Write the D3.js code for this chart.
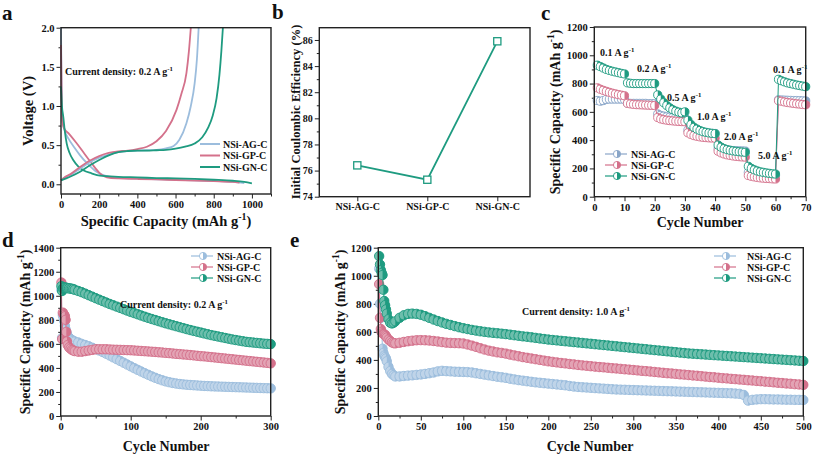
<!DOCTYPE html>
<html><head><meta charset="utf-8">
<script src="https://cdn.jsdelivr.net/npm/d3@7"></script>
<style>
body{margin:0;background:#fff}
svg{display:block}
text{font-family:"Liberation Serif","Times New Roman",serif;font-weight:bold;fill:#111}
</style>
</head><body><svg id="c" width="813" height="456"></svg>
<script>
// ---------- DATA ----------
const series = ["NSi-AG-C","NSi-GP-C","NSi-GN-C"];
const colors = ["#9cbddd","#d4718b","#1e9b80"];

// Panel a: voltage profiles (capacity mAh/g, voltage V)
const aAGdisCap = [0,2,5,10,20,40,70,100,140,180,230,300,400,500,600,700,800,900,960];
const aAGdisV   = [2.0,1.5,1.0,0.78,0.68,0.58,0.47,0.37,0.26,0.17,0.11,0.085,0.072,0.064,0.057,0.05,0.042,0.03,0.015];
const aGPdisCap = [0,3,8,15,40,80,120,160,200,240,300,400,500,600,700,800,900,935];
const aGPdisV   = [1.78,1.2,0.8,0.72,0.65,0.53,0.40,0.27,0.15,0.09,0.075,0.068,0.062,0.055,0.048,0.04,0.03,0.02];
const aGNdisCap = [0,5,12,20,30,45,64,90,117,160,204,300,400,500,600,700,800,900,960,1000];
const aGNdisV   = [1.25,1.0,0.86,0.68,0.52,0.4,0.31,0.23,0.18,0.14,0.11,0.095,0.088,0.08,0.075,0.068,0.058,0.045,0.03,0.012];
const aAGchCap = [0,20,50,100,150,200,250,300,350,400,450,500,550,590,620,657,680,700,712,721];
const aAGchV   = [0.05,0.09,0.12,0.2,0.28,0.34,0.38,0.41,0.425,0.43,0.435,0.44,0.46,0.49,0.57,0.78,1.0,1.29,1.6,2.0];
const aGPchCap = [0,20,50,100,150,200,250,300,350,400,450,500,550,605,630,657,670,680];
const aGPchV   = [0.05,0.09,0.13,0.22,0.3,0.36,0.4,0.42,0.43,0.45,0.48,0.55,0.68,0.95,1.15,1.42,1.7,2.0];
const aGNchCap = [0,20,50,100,150,200,250,300,350,400,450,500,550,600,650,700,740,770,795,815,830,840,848];
const aGNchV   = [0.05,0.07,0.1,0.16,0.24,0.31,0.37,0.41,0.425,0.43,0.43,0.435,0.44,0.455,0.48,0.52,0.6,0.72,0.88,1.1,1.4,1.7,2.0];

// Panel b: initial coulombic efficiency (%)
const bValues = [76.4, 75.3, 85.9];

// Panel c: rate performance
const cCycles = [1,2,3,4,5,6,7,8,9,10,11,12,13,14,15,16,17,18,19,20,21,22,23,24,25,26,27,28,29,30,31,32,33,34,35,36,37,38,39,40,41,42,43,44,45,46,47,48,49,50,51,52,53,54,55,56,57,58,59,60,61,62,63,64,65,66,67,68,69,70];
const cAG = [680,675,680,688,690,690,690,690,690,688, 662,660,660,660,660,660,660,658,658,658, 585,575,570,565,562,560,560,560,558,558, 470,462,456,452,450,450,448,448,448,447, 340,335,332,330,328,326,325,325,324,323, 172,166,162,160,158,156,155,154,153,152, 685,684,683,682,681,680,680,679,678,677];
const cGP = [770,760,752,745,738,732,727,722,718,714, 660,656,653,651,650,649,648,647,646,645, 560,550,545,541,538,536,534,532,531,530, 452,440,432,427,423,420,418,416,415,414, 322,310,302,296,292,288,285,283,281,280, 150,144,140,136,133,131,129,128,126,125, 680,675,670,666,663,660,657,655,652,650];
const cGN = [930,920,910,900,893,887,882,877,872,868, 805,802,800,800,800,800,800,800,800,800, 720,690,665,645,628,615,605,598,592,600, 540,510,490,478,468,460,455,451,448,446, 365,350,340,333,328,324,321,318,316,314, 215,200,190,182,176,172,168,165,162,160, 830,820,812,805,800,795,790,786,782,778];
const cRateLabels = ["0.1 A g","0.2 A g","0.5 A g","1.0 A g","2.0 A g","5.0 A g","0.1 A g"];

// Panel d: cycling at 0.2 A/g
const dCycles = [1,2,3,4,5,6,7,8,9,10,12,14,16,18,20,25,30,35,40,45,50,55,60,65,70,75,80,85,90,95,100,105,110,115,120,125,130,135,140,145,150,155,160,165,170,175,180,185,190,195,200,205,210,215,220,225,230,235,240,245,250,255,260,265,270,275,280,285,290,295,300];
const dAG = [1050,650,840,820,790,750,720,700,680,665, 650,640,632,625,620, 612,600,590,580,568,556,545,532,518,503,488,473,458,443,428,413,398,384,370,356,343,330,318,307,297,288,281,275,270,266,263,260,258,256,254,252,250,249,247,246,245,244,243,242,241,240,239,238,237,236,235,234,233,232,231,230];
const dGP = [1110,640,860,850,840,830,800,700,620,590, 570,560,550,545,540, 535,535,540,545,550,555,555,555,555,553,552,551,550,549,548,547,545,543,541,539,537,535,533,530,528,525,523,520,517,515,512,510,507,504,501,498,496,493,490,487,484,481,478,475,472,469,466,463,460,457,454,451,448,445,442,438];
const dGN = [1080,1040,1060,1065,1068,1068,1067,1066,1065,1064, 1062,1060,1058,1055,1050, 1040,1030,1018,1005,993,980,968,956,944,932,921,910,899,888,877,866,856,846,836,826,816,807,798,789,780,771,763,755,747,739,731,723,715,708,701,694,687,680,673,667,661,655,649,643,637,632,627,622,617,614,611,608,605,602,600,598];

// Panel e: cycling at 1.0 A/g
const eCycles = [1,2,3,4,5,6,7,8,9,10,12,14,16,18,20,25,30,35,40,45,50,55,60,65,70,75,80,85,90,95,100,105,110,115,120,125,130,135,140,145,150,155,160,165,170,175,180,185,190,195,200,205,210,215,220,225,230,235,240,245,250,255,260,265,270,275,280,285,290,295,300,305,310,315,320,325,330,335,340,345,350,355,360,365,370,375,380,385,390,395,400,405,410,415,420,425,430,435,440,445,450,455,460,465,470,475,480,485,490,495,500];
const eAG = [1050,800,700,600,480,450,430,420,410,390, 350,320,300,290,282, 282,285,288,290,293,296,300,305,310,318,322,320,318,316,315,314,313,310,305,300,295,290,285,280,276,272,266,261,256,252,248,244,240,237,234,231,228,225,222,219,214,210,207,205,203,201,199,197,195,193,191,189,188,187,186,185,184,183,182,181,180,179,178,177,176,175,174,173,172,171,170,169,168,167,166,165,164,163,162,160,158,150,110,115,118,120,120,119,118,118,117,116,116,115,115,114];
const eGP = [940,700,620,600,590,585,582,578,570,560, 545,535,525,520,518, 522,528,533,537,540,541,540,538,535,531,527,523,521,520,519,517,510,502,493,483,474,466,460,454,450,445,438,432,426,420,415,410,405,400,395,390,386,382,378,375,371,368,364,361,358,355,352,349,347,344,341,339,336,333,331,328,325,322,320,317,314,311,308,305,303,300,297,295,292,289,287,284,281,278,276,273,270,268,265,263,260,258,255,253,250,248,245,243,240,237,235,232,230,227,225,222];
const eGN = [1140,1080,1040,1020,1005,900,820,790,760,730, 690,665,660,665,675, 700,718,728,730,728,722,712,700,688,677,667,657,649,641,633,626,620,614,609,604,600,596,593,590,587,584,580,576,572,568,565,561,557,553,549,545,542,539,536,533,530,527,524,521,518,515,512,509,506,503,500,497,494,491,488,485,482,479,476,473,470,467,464,461,458,455,452,449,446,444,442,440,438,436,434,432,430,428,426,424,422,420,418,416,414,412,410,408,406,404,402,400,398,396,394,392];

// ---------- HELPERS ----------
const svg = d3.select("#c");
const FONT = "Liberation Serif, Times New Roman, serif";

function makePanel(box, xd, yd){
  return {box, x:d3.scaleLinear().domain(xd).range([box[0],box[2]]), y:d3.scaleLinear().domain(yd).range([box[3],box[1]])};
}
function styleAxis(s){
  s.select(".domain").remove();
  s.attr("font-family",FONT).attr("font-size",10.5).attr("font-weight","bold");
  s.selectAll(".tick line").attr("stroke","#222").attr("stroke-width",1);
  s.selectAll(".tick text").attr("fill","#111");
}
function axes(p, o){
  const g = svg.append("g");
  const [x0,y0,x1,y1] = p.box;
  if (o.yMin) g.append("g").attr("transform",`translate(${x0},0)`).call(d3.axisLeft(p.y).tickValues(o.yMin).tickSize(2.5).tickFormat("")).call(styleAxis);
  g.append("g").attr("transform",`translate(${x0},0)`).call(d3.axisLeft(p.y).tickValues(o.yMaj).tickSize(4.5).tickPadding(2).tickFormat(o.yFmt||(d=>d))).call(styleAxis);
  if (o.xMin) g.append("g").attr("transform",`translate(0,${y1})`).call(d3.axisBottom(p.x).tickValues(o.xMin).tickSize(2.5).tickFormat("")).call(styleAxis);
  g.append("g").attr("transform",`translate(0,${y1})`).call(d3.axisBottom(p.x).tickValues(o.xMaj).tickSize(4.5).tickPadding(2).tickFormat(o.xFmt||(d=>d))).call(styleAxis);
  return g;
}
function frame(p){
  const [x0,y0,x1,y1] = p.box;
  svg.append("rect").attr("x",x0).attr("y",y0).attr("width",x1-x0).attr("height",y1-y0)
    .attr("fill","none").attr("stroke","#222").attr("stroke-width",1.4);
}
function supText(g, x, y, main, sup, tail, size, opts={}){
  const t = g.append("text").attr("x",x).attr("y",y).attr("font-size",size);
  if (opts.anchor) t.attr("text-anchor",opts.anchor);
  if (opts.rotate) t.attr("transform",`rotate(-90,${x},${y})`);
  t.append("tspan").text(main);
  if (sup){
    t.append("tspan").attr("dy",-size*0.4).attr("font-size",size*0.68).text(sup);
    t.append("tspan").attr("dy",size*0.4).text(tail||"");
  }
  return t;
}
function halfMarker(g, cx, cy, r, color, leftFill){
  g.append("circle").attr("cx",cx).attr("cy",cy).attr("r",r).attr("fill",leftFill||"#fff").attr("stroke",color).attr("stroke-width",0.9);
  g.append("path").attr("transform",`translate(${cx},${cy})`)
    .attr("d", d3.arc()({innerRadius:0, outerRadius:r, startAngle:0, endAngle:Math.PI}))
    .attr("fill",color);
}
function panelLabel(t,x,y){ svg.append("text").attr("x",x).attr("y",y).attr("font-size",21).text(t); }

// ---------- PANEL a ----------
{
  const p = makePanel([61,27.7,271,194],[0,1100],[-0.124,2.0]);
  axes(p,{xMaj:[0,200,400,600,800,1000], xMin:[100,300,500,700,900,1100], yMaj:[0,0.5,1.0,1.5,2.0], yMin:[0.25,0.75,1.25,1.75], yFmt:d3.format(".1f")});
  const g = svg.append("g");
  const curves = [
    [aAGdisCap,aAGdisV,0],[aGPdisCap,aGPdisV,1],[aGNdisCap,aGNdisV,2],
    [aAGchCap,aAGchV,0],[aGPchCap,aGPchV,1],[aGNchCap,aGNchV,2]
  ];
  const line = d3.line().curve(d3.curveMonotoneX);
  curves.forEach(([cx,cv,k])=>{
    g.append("path").attr("d",line(cx.map((c,i)=>[p.x(c),p.y(cv[i])])))
      .attr("fill","none").attr("stroke",colors[k]).attr("stroke-width",1.8);
  });
  frame(p);
  series.forEach((s,i)=>{
    const yy = 144 + i*11.5;
    g.append("line").attr("x1",200).attr("x2",220).attr("y1",yy).attr("y2",yy).attr("stroke",colors[i]).attr("stroke-width",2);
    g.append("text").attr("x",223).attr("y",yy+3.5).attr("font-size",10).text(s);
  });
  supText(g,65,74.5,"Current density: 0.2 A g","-1","",10);
  supText(svg,166,226,"Specific Capacity (mAh g","-1",")",14.5,{anchor:"middle"});
  svg.append("text").attr("x",33).attr("y",111).attr("text-anchor","middle").attr("font-size",14.5)
    .attr("transform","rotate(-90,33,111)").text("Voltage (V)");
  panelLabel("a",2,20);
}

// ---------- PANEL b ----------
{
  const p = makePanel([319.3,27.7,530,196.7],[0.457,3.467],[74,86.94]);
  const g = axes(p,{xMaj:[1,2,3], yMaj:[74,76,78,80,82,84,86], yMin:[75,77,79,81,83,85], xFmt:(d)=>series[d-1]});
  g.selectAll("text").attr("font-size",10);
  const pts = bValues.map((v,i)=>[p.x(i+1),p.y(v)]);
  svg.append("path").attr("d",d3.line()(pts)).attr("fill","none").attr("stroke",colors[2]).attr("stroke-width",1.8);
  svg.selectAll(null).data(pts).join("rect").attr("x",d=>d[0]-3.6).attr("y",d=>d[1]-3.6).attr("width",7.2).attr("height",7.2)
    .attr("fill","#fff").attr("stroke",colors[2]).attr("stroke-width",1.3);
  frame(p);
  svg.append("text").attr("x",300).attr("y",112).attr("text-anchor","middle").attr("font-size",12.5)
    .attr("transform","rotate(-90,300,112)").text("Initial Coulombic Efficiency (%)");
  panelLabel("b",272,19);
}

// ---------- PANEL c ----------
{
  const p = makePanel([594.3,27,805.7,196.7],[0,70],[0,1200]);
  axes(p,{xMaj:[0,10,20,30,40,50,60,70], xMin:[5,15,25,35,45,55,65], yMaj:[0,200,400,600,800,1000,1200], yMin:[100,300,500,700,900,1100]});
  const g = svg.append("g");
  const cSeries = [cAG,cGP,cGN];
  const cCol = ["#8aa6c8",colors[1],colors[2]];
  cSeries.forEach((vals,k)=>{
    const pts = cCycles.map((c,i)=>[p.x(c),p.y(vals[i])]);
    g.append("path").attr("d",d3.line()(pts)).attr("fill","none").attr("stroke",cCol[k]).attr("stroke-width",1);
    pts.forEach(q=>halfMarker(g,q[0],q[1],4.1,cCol[k]));
  });
  frame(p);
  const rl = [[600,56],[637,72],[667,101],[697,120],[724,140],[758,159],[773,73]];
  cRateLabels.forEach((t,i)=>supText(g,rl[i][0],rl[i][1],t,"-1","",10));
  series.forEach((s,i)=>{
    const yy = 154 + i*11;
    g.append("line").attr("x1",605).attr("x2",627).attr("y1",yy).attr("y2",yy).attr("stroke",cCol[i]).attr("stroke-width",1.2);
    halfMarker(g,617,yy,3.6,cCol[i]);
    g.append("text").attr("x",631).attr("y",yy+3.5).attr("font-size",10).text(s);
  });
  supText(svg,700,227,"Cycle Number",null,null,14,{anchor:"middle"});
  supText(svg,560,112,"Specific Capacity (mAh g","-1",")",14,{anchor:"middle",rotate:true});
  panelLabel("c",541,20);
}

// ---------- PANEL d / e ----------
function cyclePanel(p, cyc, data, legX, txtX, note, noteX, noteY){
  const g = svg.append("g");
  data.forEach((vals,k)=>{
    const pts = cyc.map((c,i)=>[p.x(c),p.y(vals[i])]);
    const tint = d3.interpolateRgb(colors[k],"#ffffff")(0.35);
    g.append("path").attr("d",d3.line()(pts)).attr("fill","none").attr("stroke",colors[k]).attr("stroke-width",1);
    pts.forEach(q=>halfMarker(g,q[0],q[1],4.7,colors[k],tint));
  });
  frame(p);
  series.forEach((s,i)=>{
    const yy = 256 + i*11;
    g.append("line").attr("x1",legX).attr("x2",legX+22).attr("y1",yy).attr("y2",yy).attr("stroke",colors[i]).attr("stroke-width",1.2);
    halfMarker(g,legX+12,yy,3.6,colors[i]);
    g.append("text").attr("x",txtX).attr("y",yy+3.5).attr("font-size",10).text(s);
  });
  supText(g,noteX,noteY,note,"-1","",10);
}
{
  const p = makePanel([60.7,247.7,270.7,416],[0,300],[0,1400]);
  axes(p,{xMaj:[0,100,200,300], xMin:[50,150,250], yMaj:[0,200,400,600,800,1000,1200,1400], yMin:[100,300,500,700,900,1100,1300]});
  cyclePanel(p,dCycles,[dAG,dGP,dGN],191,217,"Current density: 0.2 A g",120,307.5);
  supText(svg,166,451,"Cycle Number",null,null,14,{anchor:"middle"});
  supText(svg,30,332,"Specific Capacity (mAh g","-1",")",14,{anchor:"middle",rotate:true});
  panelLabel("d",2,247);
}
{
  const p = makePanel([378.3,247.7,803.3,416],[0,500],[0,1200]);
  axes(p,{xMaj:[0,50,100,150,200,250,300,350,400,450,500], xMin:[25,75,125,175,225,275,325,375,425,475], yMaj:[0,200,400,600,800,1000,1200], yMin:[100,300,500,700,900,1100]});
  cyclePanel(p,eCycles,[eAG,eGP,eGN],714,747,"Current density: 1.0 A g",522,314.5);
  supText(svg,590,451,"Cycle Number",null,null,14,{anchor:"middle"});
  supText(svg,345,332,"Specific Capacity (mAh g","-1",")",14,{anchor:"middle",rotate:true});
  panelLabel("e",290,247);
}
</script>
</body></html>
